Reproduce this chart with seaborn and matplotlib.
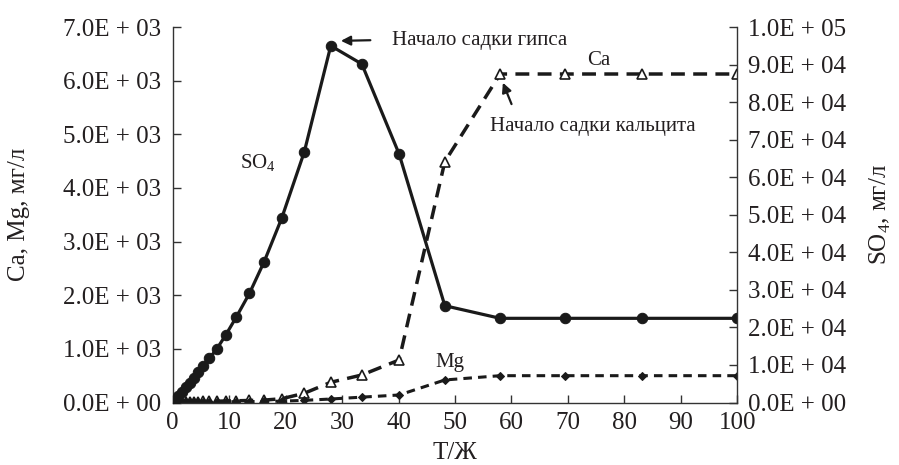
import numpy as np
import pandas as pd
import matplotlib
matplotlib.use("Agg")
import matplotlib.pyplot as plt
import seaborn as sns
from matplotlib.ticker import FuncFormatter, MultipleLocator

# ---- data ----
t_ratio = [0, 0.5, 1.0, 1.6, 2.3, 3.0, 3.7, 4.5, 5.4, 6.5, 7.8, 9.4, 11.3,
           13.6, 16.2, 19.3, 23.3, 28.0, 33.5, 40.1, 48.2, 58.0, 69.4, 83.2, 100]
so4 = [0, 900, 1700, 2800, 4000, 5200, 6500, 8000, 9720, 11770, 14250, 17980,
       22850, 29080, 37500, 49050, 66700, 95000, 90150, 66200, 25780, 22420,
       22420, 22420, 22420]
ca = [0, 5, 8, 10, 12, 14, 16, 18, 20, 22, 25, 28, 32, 38, 45, 70, 172, 377,
      513, 792, 4490, 6124, 6124, 6124, 6124]
mg = [0, 3, 5, 6, 7, 8, 9, 10, 11, 12, 13, 14, 15, 17, 20, 25, 40, 65, 100,
      140, 420, 500, 500, 500, 500]

df = pd.DataFrame({"t": t_ratio, "SO4": so4, "Ca": ca, "Mg": mg})

sns.set_style("ticks")
plt.rcParams["font.family"] = ["Liberation Serif", "DejaVu Serif"]
plt.rcParams["mathtext.fontset"] = "custom"
plt.rcParams["mathtext.rm"] = "Liberation Serif"
TXT = "#231f20"

fig = plt.figure(figsize=(8.99, 4.65), dpi=100)
ax = fig.add_axes([0.1921, 0.1344, 0.6280, 0.8075])
ax2 = ax.twinx()

# Ca (left axis)
sns.lineplot(data=df, x="t", y="Ca", ax=ax, estimator=None, sort=False,
             color="#1a1a1a", linewidth=2.5, linestyle=(0, (4.0, 2.4)),
             marker="^", markersize=7, markerfacecolor="white",
             markeredgecolor="#1a1a1a", markeredgewidth=1.2)
# Mg (left axis)
sns.lineplot(data=df, x="t", y="Mg", ax=ax, estimator=None, sort=False,
             color="#1a1a1a", linewidth=2.2, linestyle=(0, (2.8, 2.0)),
             marker="D", markersize=4, markerfacecolor="#1a1a1a",
             markeredgecolor="#1a1a1a")
# SO4 (right axis)
sns.lineplot(data=df, x="t", y="SO4", ax=ax2, estimator=None, sort=False,
             color="#1a1a1a", linewidth=2.3, linestyle="-",
             marker="o", markersize=7.5, markerfacecolor="#1a1a1a",
             markeredgecolor="#1a1a1a")

ax.set_xlim(0, 100)
ax.set_ylim(0, 7000)
ax2.set_ylim(0, 100000)
ax.xaxis.set_major_locator(MultipleLocator(10))
ax.yaxis.set_major_locator(MultipleLocator(1000))
ax2.yaxis.set_major_locator(MultipleLocator(10000))


def sci_fmt(v, pos):
    if v == 0:
        return "0.0E + 00"
    e = int(np.floor(np.log10(abs(v)) + 1e-9))
    m = v / 10 ** e
    return f"{m:.1f}E + {e:02d}"


ax.yaxis.set_major_formatter(FuncFormatter(sci_fmt))
ax2.yaxis.set_major_formatter(FuncFormatter(sci_fmt))

for a in (ax, ax2):
    a.spines["top"].set_visible(False)
    for s in a.spines.values():
        s.set_linewidth(1.0)
        s.set_color("#333333")
ax.spines["right"].set_visible(False)
ax2.spines["left"].set_visible(False)
ax2.spines["bottom"].set_visible(False)
ax2.spines["right"].set_visible(True)

ax.tick_params(axis="x", direction="in", length=6, width=1.0, pad=7,
               labelsize=18, colors="#333333", labelcolor=TXT)
ax.tick_params(axis="y", direction="in", length=6, width=1.0, pad=8.5,
               labelsize=18, colors="#333333", labelcolor=TXT)
ax2.tick_params(axis="y", direction="in", length=6, width=1.0, pad=8,
                labelsize=18, colors="#333333", labelcolor=TXT)

ax.set_xlabel("Т/Ж", fontsize=18, color=TXT)
ax.xaxis.set_label_coords(0.5, -0.105)
ax.set_ylabel("Ca, Mg, мг/л", fontsize=18, color=TXT)
ax.yaxis.set_label_coords(-0.252, 0.5)
ax2.set_ylabel("SO$_4$, мг/л", fontsize=18, color=TXT, rotation=90)
ax2.yaxis.set_label_coords(1.232, 0.5)

# annotations
ax2.annotate("", xy=(29.3, 96300), xytext=(35.5, 96500),
             arrowprops=dict(arrowstyle="-|>", color="#1a1a1a", lw=1.6,
                             mutation_scale=14))
ax2.text(38.8, 96500, "Начало садки гипса", fontsize=15, color=TXT,
         va="center", ha="left")
ax.annotate("", xy=(58.3, 6010), xytext=(60.2, 5515),
            arrowprops=dict(arrowstyle="-|>", color="#1a1a1a", lw=1.6,
                            mutation_scale=14))
ax.text(56.2, 5140, "Начало садки кальцита", fontsize=15, color=TXT,
        va="center", ha="left")
ax.text(75.5, 6385, "Ca", fontsize=15, color=TXT, va="center", ha="center")
ax.text(15.1, 4465, "SO$_4$", fontsize=15, color=TXT, va="center", ha="center")
ax.text(49.1, 755, "Mg", fontsize=15, color=TXT, va="center", ha="center")

fig.savefig("out.png", dpi=100)
